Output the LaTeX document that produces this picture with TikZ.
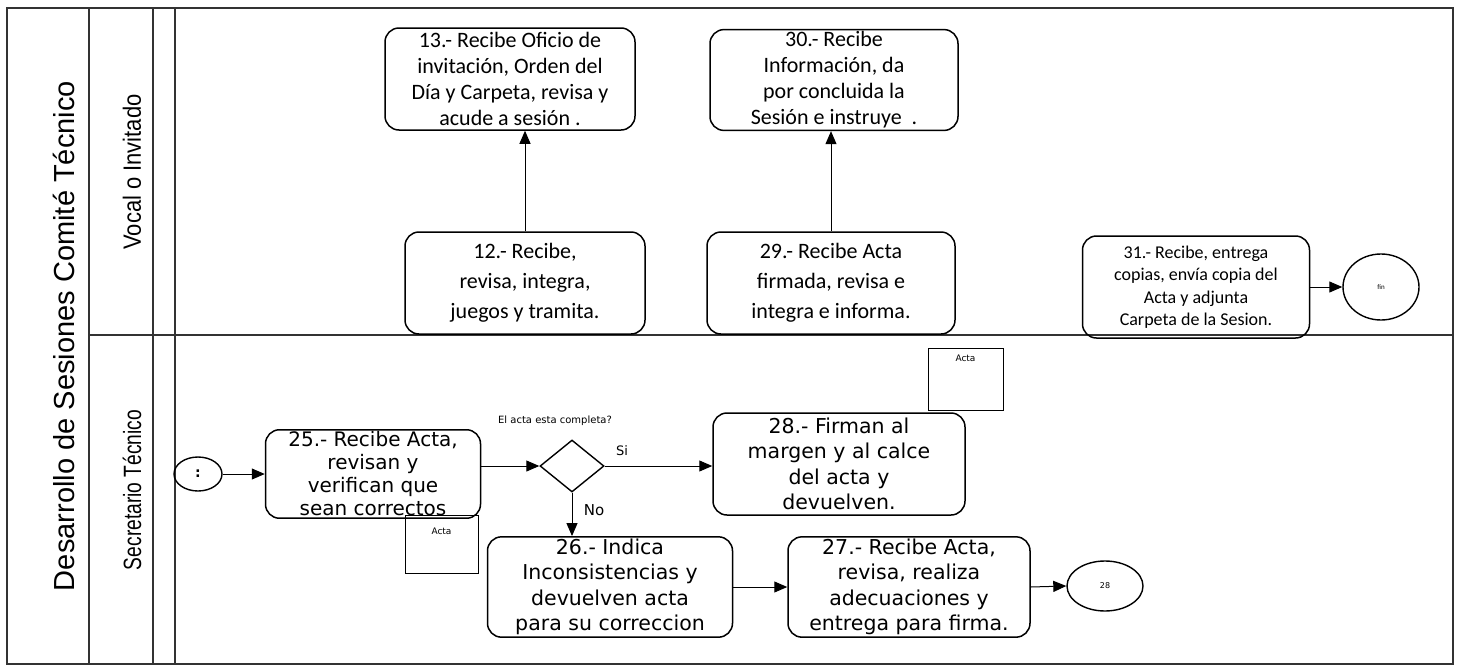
\documentclass[tikz,border=0pt]{standalone}
\usepackage{fontspec}
\usepackage{graphicx}
\usetikzlibrary{shapes.geometric,arrows.meta}
\setmainfont{Carlito}
\newfontfamily\lanefont{Liberation Sans}
\newfontfamily\vfont{DejaVu Sans}
\begin{document}
\begin{tikzpicture}[x=1pt,y=-1pt,
  lane/.style={line width=1.1pt,draw=black!80},
  topbox/.style={draw,line width=1.5pt,rounded corners=14pt,align=center,inner sep=2pt,
     font=\fontsize{22}{26}\selectfont},
  lowbox/.style={draw,line width=1.5pt,rounded corners=14pt,align=center,inner sep=2pt,
     font=\vfont\fontsize{20.5}{25.5}\selectfont},
  docbox/.style={draw,line width=1pt},
  oval/.style={draw,ellipse,line width=1.4pt,inner sep=0pt},
  arr/.style={line width=1pt,-{Triangle[length=13pt,width=11pt]}},
  lbl/.style={inner sep=0pt}]
\useasboundingbox (0,0) rectangle (1460,667);
% frame
\draw[lane] (7,8) rectangle (1453,664);
\draw[lane] (89,8) -- (89,664);
\draw[lane] (153,8) -- (153,664);
\draw[lane] (175,8) -- (175,664);
\draw[lane] (89,335) -- (1453,335);
% labels
\node[lbl,rotate=90] (tlab) at (64,336) {\lanefont\fontsize{29}{29}\selectfont\resizebox{510pt}{\height}{Desarrollo de Sesiones Comité Técnico}};
\node[lbl,rotate=90] (vlab) at (132,172) {\lanefont\fontsize{25}{25}\selectfont\resizebox{155pt}{\height}{Vocal o Invitado}};
\node[lbl,rotate=90] (slab) at (132,490) {\lanefont\fontsize{25}{25}\selectfont\resizebox{160pt}{\height}{Secretario Técnico}};
% top lane
\node[topbox,minimum width=250pt,minimum height=102pt] (n13) at (510,79) {13.- Recibe Oficio de\\invitación, Orden del\\Día y Carpeta, revisa y\\acude a sesión .};
\node[topbox,minimum width=248pt,minimum height=100pt] (n30) at (834,80) {30.- Recibe\\Información, da\\por concluida la\\Sesión e instruye\ \ .};
\node[topbox,minimum width=240pt,minimum height=102pt,font=\fontsize{22}{30}\selectfont] (n12) at (525,283) {12.- Recibe,\\revisa, integra,\\juegos y tramita.};
\node[topbox,minimum width=248pt,minimum height=102pt,font=\fontsize{22}{30}\selectfont] (n29) at (831,283) {29.- Recibe Acta\\firmada, revisa e\\integra e informa.};
\node[topbox,minimum width=227pt,minimum height=102pt,font=\fontsize{18}{22.5}\selectfont] (n31) at (1196,287) {31.- Recibe, entrega\\copias, envía copia del\\Acta y adjunta\\Carpeta de la Sesion.};
\node[oval,minimum width=76pt,minimum height=66pt,font=\fontsize{7}{8}\selectfont] (fin) at (1381,287) {fin};
\node[docbox,minimum width=75pt,minimum height=62pt] (acta1) at (965.5,379) {};
\node[lbl,font=\vfont\fontsize{9}{10}\selectfont] (acta1t) at (965.5,358) {Acta};
\draw[arr] (n12.north) -- (n12.north |- n13.south);
\draw[arr] (n29.north) -- (n29.north |- n30.south);
\draw[arr] (n31.east) -- (fin.west);
% bottom lane
\node[oval,minimum width=48pt,minimum height=34pt,font=\vfont\bfseries\fontsize{14}{14}\selectfont] (st) at (198,474) {:};
\node[lowbox,minimum width=215pt,minimum height=82pt,font=\vfont\fontsize{20}{23}\selectfont] (n25) at (373,474) {25.- Recibe Acta,\\revisan y\\verifican que\\sean correctos};
\node[docbox,minimum width=73pt,minimum height=58pt] (acta2) at (441.5,544) {};
\node[lbl,font=\vfont\fontsize{9}{10}\selectfont] (acta2t) at (441.5,531) {Acta};
\node[draw,diamond,line width=1.4pt,minimum width=64pt,minimum height=52pt,inner sep=0pt,aspect=1.23] (dia) at (572,466) {};
\node[lbl,font=\vfont\fontsize{10}{10}\selectfont] (q) at (555,421) {El acta esta completa?};
\node[lbl,font=\vfont\fontsize{13}{13}\selectfont] (si) at (622,451) {Si};
\node[lbl,font=\vfont\fontsize{15}{15}\selectfont] (no) at (594,510) {No};
\node[lowbox,minimum width=252pt,minimum height=102pt] (n28) at (839,464) {28.- Firman al\\margen y al calce\\del acta y\\devuelven.};
\node[lowbox,minimum width=245pt,minimum height=96pt] (n26) at (610,587) {26.- Indica\\Inconsistencias y\\devuelven acta\\para su correccion};
\node[lowbox,minimum width=242pt,minimum height=96pt] (n27) at (909,587) {27.- Recibe Acta,\\revisa, realiza\\adecuaciones y\\entrega para firma.};
\node[oval,minimum width=76pt,minimum height=50pt,font=\vfont\fontsize{8}{8}\selectfont] (c28) at (1105,586) {28};
\draw[arr] (st.east) -- (n25.west |- st.east);
\draw[arr] (dia.west -| n25.east) -- (dia.west);
\draw[arr] (dia.east) -- (dia.east -| n28.west);
\draw[arr] (dia.south) -- (dia.south |- n26.north);
\draw[arr] (n26.east) -- (n27.west);
\draw[arr] (n27.east) -- (c28.west);
\end{tikzpicture}
\end{document}
